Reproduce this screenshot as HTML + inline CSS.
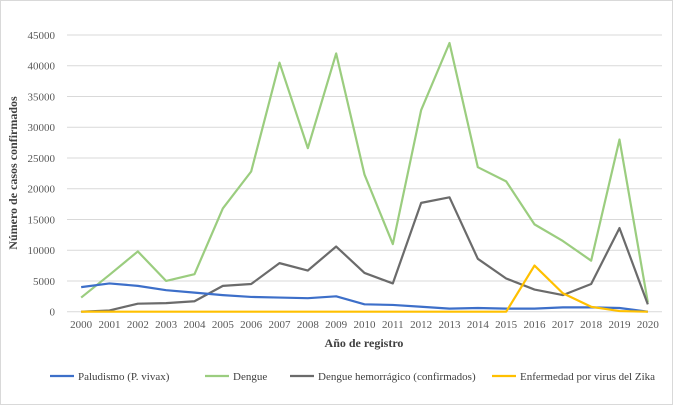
<!DOCTYPE html>
<html><head><meta charset="utf-8"><style>
body{margin:0;background:#fff;font-family:"Liberation Serif",serif;}
</style></head><body>
<svg width="673" height="405" style="display:block">
<rect x="0.5" y="0.5" width="672" height="404" fill="#fff" stroke="#d9d9d9"/>
<g id="grid"></g>
<g id="series"></g>
<g id="xt"></g>
<text x="364" y="347" text-anchor="middle" font-size="12" font-weight="bold" fill="#404040">Año de registro</text>
<text transform="translate(17,173) rotate(-90)" text-anchor="middle" font-size="12" font-weight="bold" fill="#404040">Número de casos confirmados</text>
<g id="legend"></g>
</svg>
<script>
const years=[2000,2001,2002,2003,2004,2005,2006,2007,2008,2009,2010,2011,2012,2013,2014,2015,2016,2017,2018,2019,2020];
const yTicks=[0,5000,10000,15000,20000,25000,30000,35000,40000,45000];
const paludismo=[4000,4600,4200,3500,3100,2700,2400,2300,2200,2500,1200,1100,800,500,600,500,500,700,700,600,0];
const dengue=[2300,6000,9800,5000,6100,16800,22800,40500,26600,42000,22300,11000,32800,43700,23500,21200,14200,11500,8300,28000,1500];
const dengueH=[0,200,1300,1400,1700,4200,4500,7900,6700,10600,6300,4600,17700,18600,8600,5400,3600,2700,4500,13600,1200];
const zika=[0,0,0,0,0,0,0,0,0,0,0,0,0,0,0,0,7500,3000,800,100,0];
const names=["Paludismo (P. vivax)","Dengue","Dengue hemorrágico (confirmados)","Enfermedad por virus del Zika"];
const NS="http://www.w3.org/2000/svg";
const x0=67,x1=662,y0=311.7,yTop=35;
const xs=i=>x0+(x1-x0)*(i+0.5)/years.length;
const ys=v=>y0-(y0-yTop)*v/45000;
function mk(t,a,p){const e=document.createElementNS(NS,t);for(const k in a)e.setAttribute(k,a[k]);p.appendChild(e);return e;}
const g=document.getElementById('grid');
yTicks.forEach(v=>{
 const l=mk('line',{x1:x0,x2:x1,y1:ys(v),y2:ys(v),stroke:'#d9d9d9','stroke-width':1},g);
 
 
 const t=mk('text',{x:55,y:ys(v)+4,'text-anchor':'end','font-size':11,fill:'#595959'},g);
 t.textContent=v;
 
 
});
const xt=document.getElementById('xt');
years.forEach((y,i)=>{
 const t=mk('text',{x:xs(i),y:328,'text-anchor':'middle','font-size':11,fill:'#595959'},xt);
 t.textContent=y;
 
 
});
const data=[dengue,dengueH,paludismo,zika];
const cols=['#9bcd7f','#6b6b6b','#3d6fc9','#ffc000'];
const keys=['dengue','dengue-hemorragico','paludismo','zika'];
const sg=document.getElementById('series');
data.forEach((d,k)=>{
 const p=mk('polyline',{points:d.map((v,i)=>xs(i)+','+ys(v)).join(' '),fill:'none',stroke:cols[k],'stroke-width':2.2,'stroke-linejoin':'round'},sg);
 
 
});
const lg=document.getElementById('legend');
const lx=[50,205,290,492],lcol=['#3d6fc9','#9bcd7f','#6b6b6b','#ffc000'];
names.forEach((n,i)=>{
 const l=mk('line',{x1:lx[i],x2:lx[i]+24,y1:376,y2:376,stroke:lcol[i],'stroke-width':2.2},lg);
 
 
 const t=mk('text',{x:lx[i]+28,y:380,'font-size':11,fill:'#404040'},lg);
 t.textContent=n;
 
 
});
</script>
</body></html>
